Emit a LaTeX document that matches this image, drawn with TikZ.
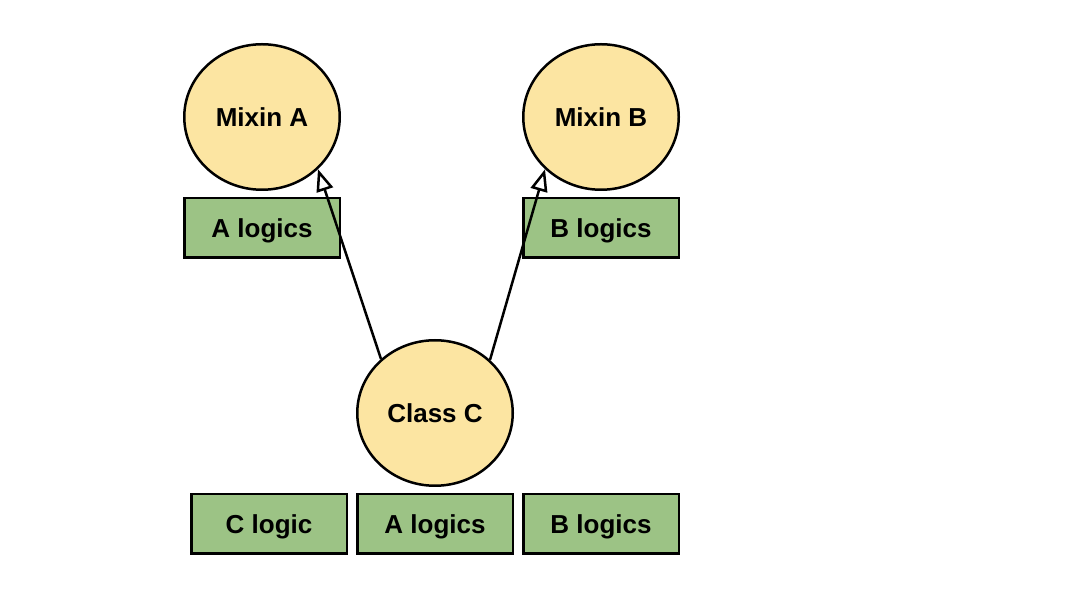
\documentclass[tikz,border=0pt]{standalone}
\usepackage{fontspec}
\setmainfont{Liberation Sans}
\usepackage{xcolor}
\usetikzlibrary{shapes.geometric,arrows.meta}

\definecolor{mixinyellow}{HTML}{FCE5A2}
\definecolor{logicgreen}{HTML}{9CC385}

\begin{document}
\begin{tikzpicture}[x=1pt,y=1pt,
    mixin/.style={ellipse,draw,line width=2.5pt,fill=mixinyellow,minimum width=155.5pt,minimum height=145.5pt,font=\fontsize{26}{29}\selectfont\bfseries},
    logic/.style={rectangle,draw,line width=2.5pt,fill=logicgreen,minimum width=155.5pt,minimum height=59.5pt,text depth=0pt,font=\fontsize{26}{29}\selectfont\bfseries},
    inherit/.style={line width=2.5pt,-{Triangle[length=22pt,width=17pt,fill=white]}}]
        \useasboundingbox (0, 0) rectangle (1092, 594);
        \node[mixin] (mixinA) at (262, 477) {Mixin A};
        \node[mixin] (mixinB) at (601, 477) {Mixin B};
        \node[logic] (alogicsA) at (262, 366) {A logics};
        \node[logic] (blogicsB) at (601, 366) {B logics};
        \node[mixin] (classC) at (435, 181) {Class C};
        \node[logic] (clogicC) at (269, 70) {C logic};
        \node[logic] (alogicsC) at (435, 70) {A logics};
        \node[logic] (blogicsC) at (601, 70) {B logics};
        \draw[inherit] (classC.135) -- (mixinA.-43);
        \draw[inherit] (classC.44) -- (mixinB.223);
      \end{tikzpicture}
\end{document}
